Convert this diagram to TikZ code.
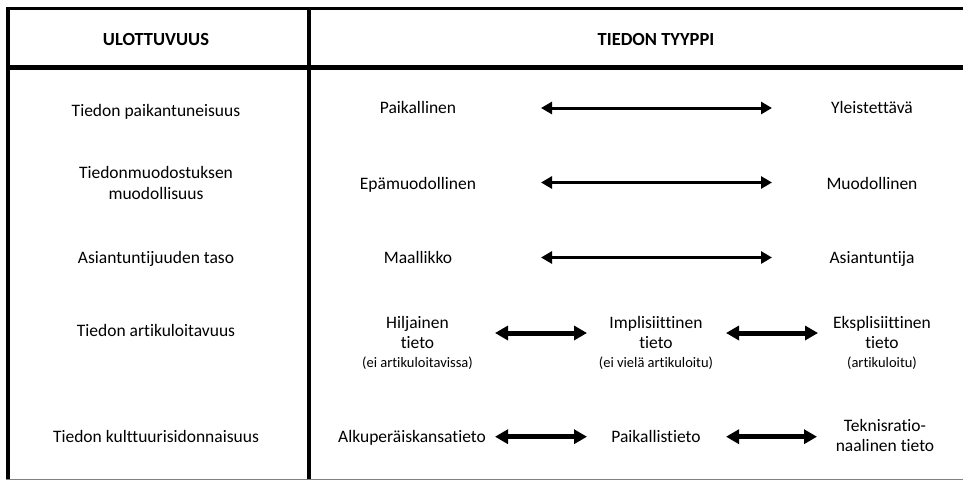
\documentclass[tikz,border=0pt]{standalone}
\usepackage{fontspec}
\setmainfont[Ligatures={NoCommon,NoRare,NoDiscretionary}]{Carlito}
\usetikzlibrary{arrows.meta}

\newcommand{\notetext}[1]{{\fontsize{14.5}{17}\selectfont #1}}

\tikzset{
  celltext/.style={font=\fontsize{17.5}{20.5}\selectfont, align=center, inner sep=0pt, anchor=base},
  headtext/.style={font=\fontsize{18.5}{22}\selectfont\bfseries, inner sep=0pt, anchor=base},
  longarrow/.style={{Triangle[length=11pt,width=12pt]}-{Triangle[length=11pt,width=12pt]}, line width=3pt},
  shortarrow/.style={{Triangle[length=13pt,width=14pt]}-{Triangle[length=13pt,width=14pt]}, line width=5pt},
}

\begin{document}
\begin{tikzpicture}[x=1pt,y=-1pt]
	\useasboundingbox (0,0) rectangle (963,480);

	% table lines
	\draw[line width=3pt] (6,8.5) -- (963,8.5);
	\draw[line width=5pt] (6,67.5) -- (963,67.5);
	\draw[line width=3.5pt] (8,7) -- (8,480);
	\draw[line width=4pt] (309,7) -- (309,480);
	\draw[gray, line width=1.5pt] (6,479.5) -- (963,479.5);

	% header
	\node[headtext] (dim) at (156,45) {ULOTTUVUUS};
	\node[headtext] (type) at (656,45) {TIEDON TYYPPI};

	% row 1
	\node[celltext] (place) at (156,116.7) {Tiedon paikantuneisuus};
	\node[celltext] (place-l) at (418,113.3) {Paikallinen};
	\node[celltext] (place-r) at (872,113.3) {Yleistettävä};
	\coordinate (place-a) at (541,108);
	\coordinate (place-b) at (772,108);
	\draw[longarrow] (place-a) -- (place-b);

	% row 2 (base = last line)
	\node[celltext] (form) at (156,199.3) {Tiedonmuodostuksen\\ muodollisuus};
	\node[celltext] (form-l) at (418,189.3) {Epämuodollinen};
	\node[celltext] (form-r) at (872,189.3) {Muodollinen};
	\coordinate (form-a) at (541,182.5);
	\coordinate (form-b) at (772,182.5);
	\draw[longarrow] (form-a) -- (form-b);

	% row 3
	\node[celltext] (exp) at (156,263.3) {Asiantuntijuuden taso};
	\node[celltext] (exp-l) at (418,263.3) {Maallikko};
	\node[celltext] (exp-r) at (872,263.3) {Asiantuntija};
	\coordinate (exp-a) at (541,257.5);
	\coordinate (exp-b) at (772,257.5);
	\draw[longarrow] (exp-a) -- (exp-b);

	% row 4
	\node[celltext] (art) at (156,336.7) {Tiedon artikuloitavuus};
	\node[celltext] (art-l) at (417.5,367.3) {Hiljainen\\ tieto\\[-2pt] \notetext{(ei artikuloitavissa)}};
	\node[celltext] (art-m) at (656,367.3) {Implisiittinen\\ tieto\\[-2pt] \notetext{(ei vielä artikuloitu)}};
	\node[celltext] (art-r) at (882,367.3) {Eksplisiittinen\\ tieto\\[-2pt] \notetext{(artikuloitu)}};
	\coordinate (art-a) at (495,333);
	\coordinate (art-b) at (587,333);
	\coordinate (art-c) at (726,333);
	\coordinate (art-d) at (818,333);
	\draw[shortarrow] (art-a) -- (art-b);
	\draw[shortarrow] (art-c) -- (art-d);

	% row 5
	\node[celltext] (cult) at (156,442.3) {Tiedon kulttuurisidonnaisuus};
	\node[celltext] (cult-l) at (412,442.3) {Alkuperäiskansatieto};
	\node[celltext] (cult-m) at (656,442.3) {Paikallistieto};
	\node[celltext] (cult-r) at (885,451.7) {Teknisratio-\\ naalinen tieto};
	\coordinate (cult-a) at (495,436.7);
	\coordinate (cult-b) at (587,436.7);
	\coordinate (cult-c) at (726,436.7);
	\coordinate (cult-d) at (817,436.7);
	\draw[shortarrow] (cult-a) -- (cult-b);
	\draw[shortarrow] (cult-c) -- (cult-d);
\end{tikzpicture}
\end{document}
